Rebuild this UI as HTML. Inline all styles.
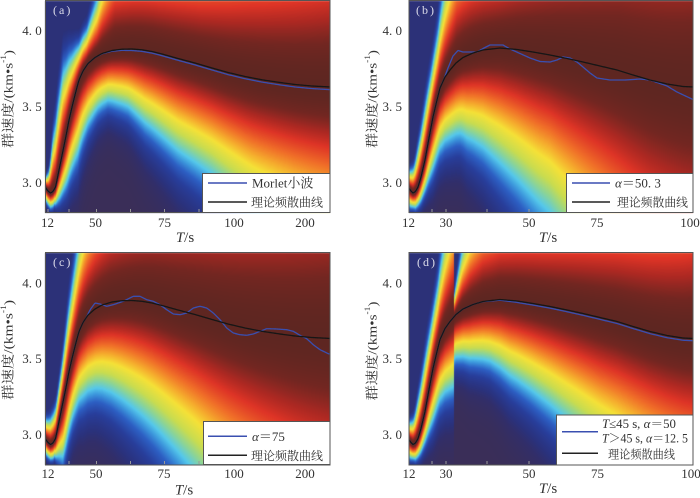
<!DOCTYPE html>
<html><head><meta charset="utf-8">
<style>
html,body{margin:0;padding:0;background:#fff;}
#wrap{position:relative;width:700px;height:498px;overflow:hidden;background:#fff;}
canvas{position:absolute;left:0;top:0;}
svg{position:absolute;left:0;top:0;}
text{font-family:"Liberation Serif","Noto Serif CJK SC",serif;fill:#333;}
</style></head>
<body><div id="wrap">
<canvas id="cv" width="700" height="498"></canvas>
<svg id="sv" width="700" height="498" viewBox="0 0 700 498" xmlns="http://www.w3.org/2000/svg">
<g id="curves"></g>
<g fill="none" stroke="#555" stroke-width="1">
<rect x="45.5" y="0.5" width="284.5" height="212"/>
<rect x="409" y="0.5" width="284" height="212"/>
<rect x="45.5" y="252.5" width="284.5" height="212.5"/>
<rect x="409" y="252.5" width="284" height="212.5"/>
</g>
<g stroke="#999" stroke-width="1">
<line x1="48" y1="212" x2="48" y2="209"/><line x1="69" y1="212" x2="69" y2="209"/><line x1="96.5" y1="212" x2="96.5" y2="209"/><line x1="130.5" y1="212" x2="130.5" y2="209"/><line x1="164.5" y1="212" x2="164.5" y2="209"/><line x1="199" y1="212" x2="199" y2="209"/><line x1="234" y1="212" x2="234" y2="209"/><line x1="270" y1="212" x2="270" y2="209"/><line x1="305" y1="212" x2="305" y2="209"/>
<line x1="69" y1="464" x2="69" y2="461"/><line x1="96.5" y1="464" x2="96.5" y2="461"/><line x1="130.5" y1="464" x2="130.5" y2="461"/><line x1="164.5" y1="464" x2="164.5" y2="461"/><line x1="199" y1="464" x2="199" y2="461"/>
<line x1="432" y1="212" x2="432" y2="209"/><line x1="446" y1="212" x2="446" y2="209"/><line x1="487" y1="212" x2="487" y2="209"/><line x1="529" y1="212" x2="529" y2="209"/>
<line x1="432" y1="464" x2="432" y2="461"/><line x1="446" y1="464" x2="446" y2="461"/><line x1="487" y1="464" x2="487" y2="461"/><line x1="529" y1="464" x2="529" y2="461"/>
</g>
<g font-size="12" style="letter-spacing:2px">
<text x="53" y="14" style="fill:#dcdcea">(a)</text>
<text x="416" y="14" style="fill:#dcdcea">(b)</text>
<text x="53" y="266" style="fill:#dcdcea">(c)</text>
<text x="417" y="266" style="fill:#dcdcea">(d)</text>
</g>
<g font-size="13" text-anchor="end">
<text x="41.7" y="35.2">4. 0</text><text x="41.7" y="111.2">3. 5</text><text x="41.7" y="187.2">3. 0</text>
<text x="402" y="35.2">4. 0</text><text x="402" y="111.2">3. 5</text><text x="402" y="187.2">3. 0</text>
<text x="41.7" y="287.5">4. 0</text><text x="41.7" y="363.2">3. 5</text><text x="41.7" y="439.2">3. 0</text>
<text x="402" y="287.5">4. 0</text><text x="402" y="363.2">3. 5</text><text x="402" y="439.2">3. 0</text>
</g>
<g font-size="13" text-anchor="middle">
<text x="47.5" y="227">12</text><text x="95.5" y="227">50</text><text x="164.5" y="227">75</text><text x="234" y="227">100</text><text x="305" y="227">200</text>
<text x="408.5" y="227">12</text><text x="446" y="227">30</text><text x="529" y="227">50</text><text x="597" y="227">75</text><text x="690" y="227">100</text>
<text x="48" y="478">12</text><text x="96" y="478">50</text><text x="164" y="478">75</text><text x="234" y="478">100</text><text x="305" y="478">200</text>
<text x="409" y="478">12</text><text x="446" y="478">30</text><text x="529" y="478">50</text><text x="597.5" y="478">75</text><text x="691" y="478">100</text>
</g>
<g font-size="15" text-anchor="middle">
<text x="185" y="242"><tspan font-style="italic">T</tspan>/s</text>
<text x="548" y="242"><tspan font-style="italic">T</tspan>/s</text>
<text x="184" y="494.5"><tspan font-style="italic">T</tspan>/s</text>
<text x="548" y="493"><tspan font-style="italic">T</tspan>/s</text>
</g>
<g font-size="13" text-anchor="middle" dominant-baseline="central">
<text transform="translate(8,99) rotate(-90)" textLength="98" lengthAdjust="spacingAndGlyphs">群速度/(km•s<tspan dy="-5" font-size="8">-1</tspan><tspan dy="5">)</tspan></text>
<text transform="translate(372,99) rotate(-90)" textLength="98" lengthAdjust="spacingAndGlyphs">群速度/(km•s<tspan dy="-5" font-size="8">-1</tspan><tspan dy="5">)</tspan></text>
<text transform="translate(8,350) rotate(-90)" textLength="100" lengthAdjust="spacingAndGlyphs">群速度/(km•s<tspan dy="-5" font-size="8">-1</tspan><tspan dy="5">)</tspan></text>
<text transform="translate(372,351) rotate(-90)" textLength="99" lengthAdjust="spacingAndGlyphs">群速度/(km•s<tspan dy="-5" font-size="8">-1</tspan><tspan dy="5">)</tspan></text>
</g>
<g>
<rect x="202.5" y="173.5" width="127.5" height="39" fill="#fff" stroke="#555"/>
<line x1="208" y1="183" x2="247" y2="183" stroke="#3a4fb0" stroke-width="1.5"/>
<text x="252" y="187.5" font-size="13">Morlet小波</text>
<line x1="208" y1="202" x2="247" y2="202" stroke="#222" stroke-width="1.5"/>
<text x="251" y="206.5" font-size="12" textLength="72" lengthAdjust="spacingAndGlyphs">理论频散曲线</text>

<rect x="566.5" y="173.5" width="126.5" height="39" fill="#fff" stroke="#555"/>
<line x1="572" y1="183" x2="610" y2="183" stroke="#3a4fb0" stroke-width="1.5"/>
<text x="615" y="187.5" font-size="13"><tspan font-style="italic">α</tspan>＝50. 3</text>
<line x1="572" y1="202" x2="610" y2="202" stroke="#222" stroke-width="1.5"/>
<text x="617" y="206.5" font-size="12" textLength="71" lengthAdjust="spacingAndGlyphs">理论频散曲线</text>

<rect x="203.5" y="421.5" width="126.5" height="43" fill="#fff" stroke="#555"/>
<line x1="208" y1="436.3" x2="247" y2="436.3" stroke="#3a4fb0" stroke-width="1.5"/>
<text x="252" y="440.8" font-size="13"><tspan font-style="italic">α</tspan>＝75</text>
<line x1="208" y1="455.3" x2="247" y2="455.3" stroke="#222" stroke-width="1.5"/>
<text x="251" y="459.8" font-size="12" textLength="72" lengthAdjust="spacingAndGlyphs">理论频散曲线</text>

<rect x="556.5" y="415" width="136.5" height="50" fill="#fff" stroke="#555"/>
<line x1="562" y1="431.7" x2="598" y2="431.7" stroke="#3a4fb0" stroke-width="1.5"/>
<text x="602" y="428" font-size="12.5" textLength="74" lengthAdjust="spacingAndGlyphs"><tspan font-style="italic">T</tspan>≤45 s, <tspan font-style="italic">α</tspan>＝50</text>
<text x="602" y="442.5" font-size="12.5" textLength="86" lengthAdjust="spacingAndGlyphs"><tspan font-style="italic">T</tspan>＞45 s, <tspan font-style="italic">α</tspan>＝12. 5</text>
<line x1="562" y1="453.3" x2="598" y2="453.3" stroke="#222" stroke-width="1.5"/>
<text x="608" y="458.5" font-size="12" textLength="67" lengthAdjust="spacingAndGlyphs">理论频散曲线</text>
</g>
</svg>
</div>
<script>
(function(){
var cv=document.getElementById('cv'),ctx=cv.getContext('2d');
ctx.fillStyle='#fff';ctx.fillRect(0,0,700,498);
function L(p,x){if(x<=p[0][0])return p[0][1];for(var i=1;i<p.length;i++){if(x<=p[i][0]){var a=p[i-1],b=p[i];return a[1]+(b[1]-a[1])*(x-a[0])/(b[0]-a[0]);}}return p[p.length-1][1];}
var CM=[[0,58,46,88],[0.06,50,46,105],[0.10,42,50,125],[0.18,40,62,155],[0.26,45,95,195],[0.32,60,150,220],[0.375,85,200,235],[0.45,140,212,150],[0.53,200,220,80],[0.64,245,225,55],[0.72,245,170,45],[0.80,240,110,40],[0.88,222,52,38],[0.93,170,40,34],[0.97,115,38,33],[1,94,38,33]];
function cm(a){if(a<=0)return [58,46,88];for(var i=1;i<CM.length;i++){if(a<=CM[i][0]){var p=CM[i-1],q=CM[i],f=(a-p[0])/(q[0]-p[0]);return [p[1]+(q[1]-p[1])*f,p[2]+(q[2]-p[2])*f,p[3]+(q[3]-p[3])*f];}}return [94,38,33];}
function draw(x0,y0,w,h,colfn){var im=ctx.createImageData(w,h),d=im.data;for(var i=0;i<w;i++){var X=x0+i+0.5;var P=colfn(X);for(var j=0;j<h;j++){var Y=y0+j+0.5;var dd=Y-P[0],a;if(dd<0){var t=-dd/P[1];a=Math.max(Math.exp(-t*t),0.09);}else{var t2=dd/P[2];a=Math.exp(-t2*t2);}var c=cm(a);var k=(j*w+i)*4;d[k]=c[0];d[k+1]=c[1];d[k+2]=c[2];d[k+3]=255;}}ctx.putImageData(im,x0,y0);}

var YA=[[45,187],[48,191],[50.5,193],[53,191.5],[55.5,187],[57,180],[59,170],[62.5,153],[66,136],[69,120],[72.5,105],[76,91],[79,80],[83,71],[88,63.5],[95,57.5],[102,53.5],[112,50.5],[122,49.2],[132,49],[142,49.8],[152,51.5],[162,54],[178,58.5],[195,63],[212,68],[228,72.5],[245,76.5],[262,79.8],[280,82.5],[295,84.5],[312,86],[331,87]];
var YB=[[408,187],[411,191],[413,193],[415.5,191.5],[418,187],[421,177],[425,160],[429,138],[433,117],[437,100],[440,88],[445,77],[450,70],[456,63],[463,57.5],[473,53],[483,50],[500,48],[517,49.5],[533,52],[550,55],[567,58.5],[583,62],[600,66],[617,70],[633,75],[650,80],[667,84],[683,86.5],[694,87]];

var SUA=[[45,8],[49,19],[53,51],[58,67],[63,77],[72,50],[79,33],[87,33],[93,46],[97,55],[103,81],[108,100],[115,126],[160,140],[200,160],[250,200],[331,250]];
var SDA=[[45,12],[50,14],[55,15],[60,32],[68,54],[78,70],[88,60],[98,52],[108,49],[128,58],[145,73],[178,93],[212,107],[232,119],[252,132],[290,150],[331,170]];
var SUB=[[408,15],[414,24],[418,37],[425,50],[432,52],[438,61],[443,81],[450,107],[457,135],[470,147],[500,157],[550,225],[620,318],[694,374]];
var SDB=[[408,18],[413,14],[418,18],[425,30],[433,51],[441,61],[450,68],[460,74],[467,83],[483,98],[500,116],[517,131],[537,149],[550,159],[600,220],[650,290],[694,340]];
var SUC=[[45,18],[52,26],[57,30],[62,40],[67,56],[72,69],[77,83],[85,110],[95,135],[110,164],[150,205],[250,295],[331,352]];
var SDC=[[45,14],[50,14],[55,16],[58,30],[63,55],[68,58],[73,61],[83,74],[97,81],[110,90],[133,108],[157,126],[177,142],[193,156],[250,210],[300,260],[331,290]];
var SUR=[[454,19],[458,38],[462,57],[470,83],[483,109],[500,124],[550,146],[620,185],[694,230]];
var SDR=[[454,43],[456,43],[470,53],[490,61],[510,76],[530,87],[550,99],[567,110],[583,120],[600,131],[630,147],[694,185]];

draw(45,1,285,212,function(X){return [L(YA,X),L(SUA,X),L(SDA,X)];});
draw(409,1,284,212,function(X){return [L(YB,X),L(SUB,X),L(SDB,X)];});
draw(45,253,285,212,function(X){return [L(YA,X)+251.5,L(SUC,X),L(SDC,X)];});
draw(409,253,284,212,function(X){if(X<454.3)return [L(YB,X)+251.5,L(SUB,X),L(SDB,X)];return [L(YB,X)+251.5,L(SUR,X),L(SDR,X)];});

var BB=[[440,88],[444,79],[448,68],[453,56],[458,50.5],[463,52],[470,52],[477,52],[484,48],[490,45],[503,45],[510,49],[520,53.5],[530,58],[540,61.5],[550,62],[557,60],[563,57],[570,58],[577,62],[583,67],[590,73],[597,78],[610,80],[625,80],[633,79.5],[640,79],[650,80],[660,83.5],[667,86],[677,92],[694,100]];
var CB=[[86,318],[88,314],[90,310],[95,303],[100,304],[106.7,306.3],[113.3,304.7],[123.3,301.3],[133.3,296.3],[140,296.3],[146.7,299.7],[153.3,301.3],[160,304.7],[166.7,309.7],[173.3,314],[180,314.7],[186.7,313],[193.3,308],[200,306.3],[206.7,308],[213.3,313],[220,319.7],[226.7,328],[233.3,333],[240,334.7],[246.7,335.3],[253.3,334],[260,331.3],[266.7,328.7],[276.7,329],[286.7,329.7],[293.3,331.3],[300,335.3],[306.7,338.7],[313.3,344.7],[320,349.7],[329,354]];
function offA(x){return x<95?0:(x<130?1.5*(x-95)/35:1.5+1.2*(x-130)/200);}
function offD(x){return x<480?0:(x<520?1.5*(x-480)/40:1.5+0.8*(x-520)/173);}
function path(x0,x1,f){var s='';for(var x=x0;x<=x1+0.01;x+=1){var y=f(x);s+=(s?'L':'M')+x.toFixed(1)+' '+y.toFixed(2);}return s;}
var g=document.getElementById('curves');
function add(d,col,w){var p=document.createElementNS('http://www.w3.org/2000/svg','path');p.setAttribute('d',d);p.setAttribute('fill','none');p.setAttribute('stroke',col);p.setAttribute('stroke-width',w);p.setAttribute('stroke-linejoin','round');g.appendChild(p);}
var BL='#3a4fb0',BK='#161616';
add(path(45.5,330,function(x){return L(YA,x)+offA(x);}),BL,1.3);
add(path(45.5,330,function(x){return L(YA,x);}),BK,1.3);
add(path(409,693,function(x){return x<440?L(YB,x):L(BB,x);}),BL,1.3);
add(path(409,693,function(x){return L(YB,x);}),BK,1.3);
add(path(45.5,330,function(x){return x<86?L(YA,x)+251.5:L(CB,x);}),BL,1.3);
add(path(45.5,330,function(x){return L(YA,x)+251.5;}),BK,1.3);
add(path(409,693,function(x){return L(YB,x)+251.5+offD(x);}),BL,1.3);
add(path(409,693,function(x){return L(YB,x)+251.5;}),BK,1.3);
})();
</script>
</body></html>
